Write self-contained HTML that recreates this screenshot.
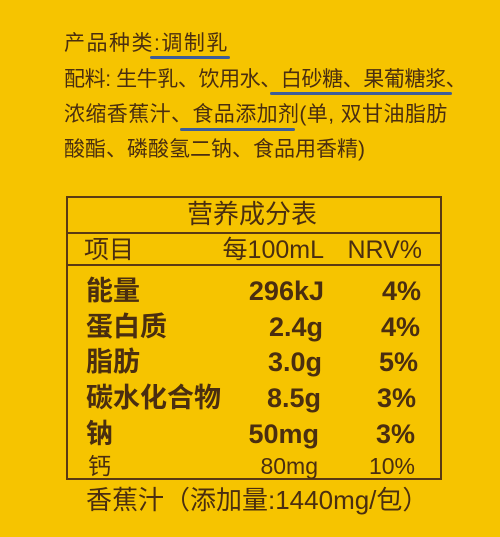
<!DOCTYPE html>
<html><head><meta charset="utf-8"><style>
body{margin:0;width:500px;height:537px;background:#f6c400;overflow:hidden;position:relative;font-family:"Liberation Sans","Noto Sans CJK SC",sans-serif;color:#4a2e10}
.t{position:absolute;white-space:nowrap;line-height:1}
.ing{font-size:21px}
.u{position:absolute;height:3px;background:#3d5d9a;border-radius:2px}
.box{position:absolute;left:66px;top:196px;width:376px;height:284px;border:2px solid #5a3a12;box-sizing:border-box}
.hl{position:absolute;left:66px;width:376px;height:2px;background:#5a3a12}
.b{font-weight:bold;font-size:27px}
.r{text-align:right}
</style></head><body>
<div class="t ing" style="left:64px;top:33px;letter-spacing:1.5px">产品种类:调制乳</div>
<div class="u" style="left:150px;top:56px;width:80px"></div>
<div class="t ing" style="left:64px;top:69px;letter-spacing:-0.4px">配料: 生牛乳、饮用水、白砂糖、果葡糖浆、</div>
<div class="u" style="left:270px;top:92px;width:182px"></div>
<div class="t ing" style="left:64px;top:104px;letter-spacing:0.4px">浓缩香蕉汁、食品添加剂(单, 双甘油脂肪</div>
<div class="u" style="left:180px;top:128px;width:115px"></div>
<div class="t ing" style="left:64px;top:139px">酸酯、磷酸氢二钠、食品用香精)</div>

<div class="box"></div>
<div class="hl" style="top:232px"></div>
<div class="hl" style="top:264px"></div>
<div class="t" style="left:187px;top:201px;font-size:26px">营养成分表</div>
<div class="t" style="left:84px;top:238px;font-size:25px">项目</div>
<div class="t r" style="right:176px;top:238px;font-size:25px">每100mL</div>
<div class="t r" style="right:78px;top:238px;font-size:25px">NRV%</div>

<div class="t b" style="left:86px;top:278px">能量</div>
<div class="t b r" style="right:176px;top:278px">296kJ</div>
<div class="t b r" style="right:79px;top:278px">4%</div>

<div class="t b" style="left:86px;top:314px">蛋白质</div>
<div class="t b r" style="right:177px;top:314px">2.4g</div>
<div class="t b r" style="right:80px;top:314px">4%</div>

<div class="t b" style="left:86px;top:349px">脂肪</div>
<div class="t b r" style="right:178px;top:349px">3.0g</div>
<div class="t b r" style="right:82px;top:349px">5%</div>

<div class="t b" style="left:86px;top:385px">碳水化合物</div>
<div class="t b r" style="right:179px;top:385px">8.5g</div>
<div class="t b r" style="right:84px;top:385px">3%</div>

<div class="t b" style="left:86px;top:421px">钠</div>
<div class="t b r" style="right:181px;top:421px">50mg</div>
<div class="t b r" style="right:85px;top:421px">3%</div>

<div class="t" style="left:88px;top:455px;font-size:23px">钙</div>
<div class="t r" style="right:182px;top:455px;font-size:23px">80mg</div>
<div class="t r" style="right:85px;top:455px;font-size:23px">10%</div>

<div class="t" style="left:86px;top:487px;font-size:26px">香蕉汁（添加量:1440mg/包）</div>
</body></html>
